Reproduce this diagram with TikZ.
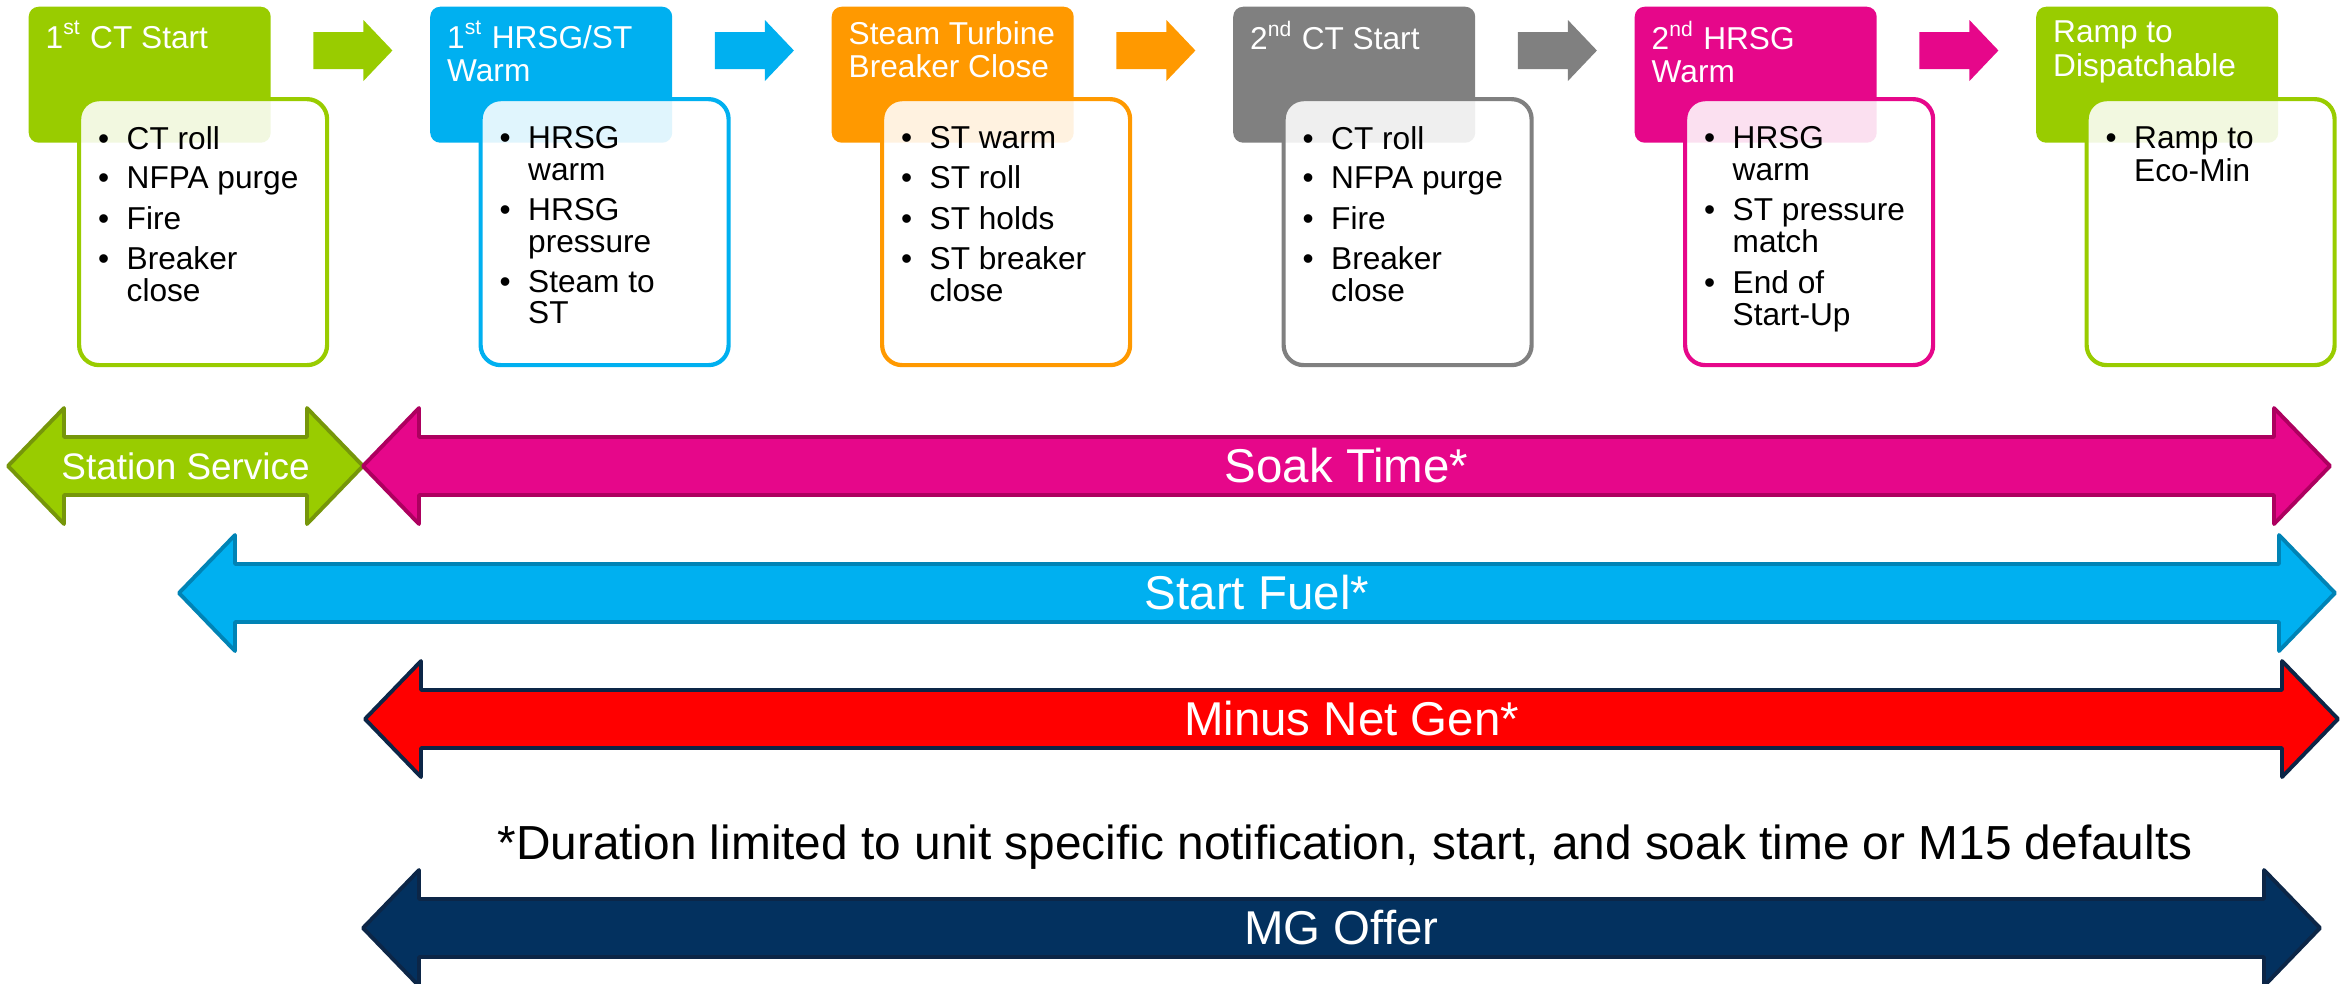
\documentclass[tikz,border=0pt]{standalone}
\usepackage{fontspec}
\setmainfont{Liberation Sans}
\usepackage{xcolor}
\definecolor{stgreen}{HTML}{99CC00}
\definecolor{stgreenedge}{HTML}{76960A}
\definecolor{stblue}{HTML}{00B0F0}
\definecolor{stblueedge}{HTML}{0083B5}
\definecolor{storange}{HTML}{FF9900}
\definecolor{stgrey}{HTML}{808080}
\definecolor{stpink}{HTML}{E6078A}
\definecolor{stpinkedge}{HTML}{AD005F}
\definecolor{stred}{HTML}{FF0000}
\definecolor{stnavy}{HTML}{03315F}
\definecolor{stnavyedge}{HTML}{0C2647}
\usetikzlibrary{calc,positioning}
\tikzset{
  sthead/.style ={rectangle, rounded corners=1mm, fill=#1, minimum width=2.42cm,
                  minimum height=1.36cm, inner sep=0pt, anchor=north west},
  stlist/.style ={rectangle, rounded corners=2mm, draw=#1, line width=1.2pt,
                  fill=white, fill opacity=0.88, minimum width=2.48cm,
                  minimum height=2.66cm, inner sep=0pt, anchor=north west},
  sthtext/.style={anchor=north west, inner sep=0pt, text=white, align=left,
                  font=\fontsize{9}{9.4}\selectfont},
  stitems/.style={anchor=north west, inner sep=0pt, text=black,
                  font=\fontsize{9}{9.1}\selectfont},
  stspan/.style ={fill=#1, line width=1.1pt, line join=round},
  stbig/.style  ={text=white, font=\fontsize{13.5}{14}\selectfont},
  stsmall/.style={text=white, font=\fontsize{10.5}{11}\selectfont},
  stnote/.style ={text=black, font=\fontsize{13.6}{14}\selectfont},
}
\newcommand{\bu}{\makebox[2.85mm][l]{\textbullet}}
\newcommand{\steparrow}[2]{%
  \fill[#2] ($(#1.north east)+(0.42,-0.26)$) -- ++(0.50,0) -- ++(0,0.12)
    -- ++(0.29,-0.305) -- ++(-0.29,-0.305) -- ++(0,0.12) -- ++(-0.50,0) -- cycle;}
\newcommand{\durarrow}[4]{%
  \draw[#1] (#2,#4) -- ++(0.56,0.58) -- ++(0,-0.29) -- ({#3-0.56},{#4+0.29})
    -- ++(0,0.29) -- (#3,#4) -- ++(-0.56,-0.58) -- ++(0,0.29)
    -- ({#2+0.56},{#4-0.29}) -- ++(0,-0.29) -- cycle;}
\begin{document}
\begin{tikzpicture}
  \useasboundingbox (0,0) rectangle (23.44,-9.83);
  % phase boxes
  \foreach \i/\c in {1/stgreen,2/stblue,3/storange,4/stgrey,5/stpink,6/stgreen}{
    \node[sthead=\c] (h\i) at ({0.28+4.015*(\i-1)},-0.06) {};
    \node[stlist=\c] (d\i) at ([xshift=0.49cm,yshift=-0.91cm]h\i.north west) {};}
  \foreach \i/\c in {1/stgreen,2/stblue,3/storange,4/stgrey,5/stpink}{
    \steparrow{h\i}{\c}}
  % headings
  \node[sthtext] (ht1) at ([xshift=0.17cm,yshift=-0.145cm]h1.north west) {1\textsuperscript{st} CT Start};
  \node[sthtext] (ht2) at ([xshift=0.17cm,yshift=-0.145cm]h2.north west) {1\textsuperscript{st} HRSG/ST\\Warm};
  \node[sthtext] (ht3) at ([xshift=0.17cm,yshift=-0.145cm]h3.north west) {Steam Turbine\\Breaker Close};
  \node[sthtext] (ht4) at ([xshift=0.17cm,yshift=-0.145cm]h4.north west) {2\textsuperscript{nd} CT Start};
  \node[sthtext] (ht5) at ([xshift=0.17cm,yshift=-0.145cm]h5.north west) {2\textsuperscript{nd} HRSG\\Warm};
  \node[sthtext] (ht6) at ([xshift=0.17cm,yshift=-0.145cm]h6.north west) {Ramp to\\Dispatchable};
  % task lists
  \node[stitems] (t1) at ([xshift=0.205cm,yshift=-0.285cm]d1.north west)
    {\begin{tabular}{@{}l@{}l@{}}\bu & CT roll\\[2.2pt] \bu & NFPA purge\\[2.2pt]
     \bu & Fire\\[2.2pt] \bu & Breaker\\ & close\end{tabular}};
  \node[stitems] (t2) at ([xshift=0.205cm,yshift=-0.285cm]d2.north west)
    {\begin{tabular}{@{}l@{}l@{}}\bu & HRSG\\ & warm\\[2.2pt] \bu & HRSG\\ & pressure\\[2.2pt]
     \bu & Steam to\\ & ST\end{tabular}};
  \node[stitems] (t3) at ([xshift=0.205cm,yshift=-0.285cm]d3.north west)
    {\begin{tabular}{@{}l@{}l@{}}\bu & ST warm\\[2.2pt] \bu & ST roll\\[2.2pt]
     \bu & ST holds\\[2.2pt] \bu & ST breaker\\ & close\end{tabular}};
  \node[stitems] (t4) at ([xshift=0.205cm,yshift=-0.285cm]d4.north west)
    {\begin{tabular}{@{}l@{}l@{}}\bu & CT roll\\[2.2pt] \bu & NFPA purge\\[2.2pt]
     \bu & Fire\\[2.2pt] \bu & Breaker\\ & close\end{tabular}};
  \node[stitems] (t5) at ([xshift=0.205cm,yshift=-0.285cm]d5.north west)
    {\begin{tabular}{@{}l@{}l@{}}\bu & HRSG\\ & warm\\[2.2pt] \bu & ST pressure\\ & match\\[2.2pt]
     \bu & End of\\ & Start-Up\end{tabular}};
  \node[stitems] (t6) at ([xshift=0.205cm,yshift=-0.285cm]d6.north west)
    {\begin{tabular}{@{}l@{}l@{}}\bu & Ramp to\\ & Eco-Min\end{tabular}};
  % duration spans
  \durarrow{stspan=stgreen, draw=stgreenedge}{0.08}{3.63}{-4.66}
  \durarrow{stspan=stpink, draw=stpinkedge}{3.63}{23.30}{-4.66}
  \durarrow{stspan=stblue, draw=stblueedge}{1.79}{23.35}{-5.93}
  \durarrow{stspan=stred, draw=stnavyedge}{3.65}{23.38}{-7.19}
  \durarrow{stspan=stnavy, draw=stnavyedge}{3.63}{23.20}{-9.28}
  \node[stsmall] (ss) at (1.855,-4.66) {Station Service};
  \node[stbig] (soak) at (13.465,-4.66) {Soak Time*};
  \node[stbig] (fuel) at (12.57,-5.93) {Start Fuel*};
  \node[stbig] (mng) at (13.515,-7.19) {Minus Net Gen*};
  \node[stnote] (note) at (13.45,-8.47) {*Duration limited to unit specific notification, start, and soak time or M15 defaults};
  \node[stbig] (mg) at (13.415,-9.28) {MG Offer};
\end{tikzpicture}
\end{document}
